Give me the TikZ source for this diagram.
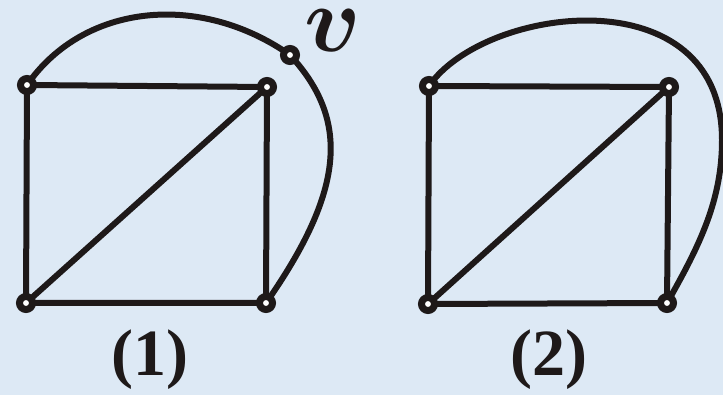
\documentclass[tikz,border=0pt]{standalone}
\usepackage{graphicx}
\usepackage{fontspec}
\usepackage{bm}
\setmainfont{Liberation Serif}
\definecolor{bg}{RGB}{221,233,245}
\definecolor{ink}{RGB}{30,25,25}
\tikzset{
  vtx/.style={circle,draw=ink,fill=white,line width=7pt,inner sep=0pt,minimum size=13pt},
  edge/.style={draw=ink,line width=6pt},
  lbl/.style={font=\fontsize{66}{66}\selectfont\bfseries,text=ink,inner sep=0pt},
}
\begin{document}
\begin{tikzpicture}[x=1pt,y=-1pt]
\fill[bg] (0,0) rectangle (723,395);
\useasboundingbox (0,0) rectangle (723,395);
% panel 1
\coordinate (a1) at (27,85);
\coordinate (b1) at (267,87);
\coordinate (c1) at (26,303);
\coordinate (d1) at (266,303);
\coordinate (v1) at (290,55);
\draw[edge] (a1) -- (b1) -- (d1) -- (c1) -- cycle;
\draw[edge] (c1) -- (b1);
\draw[edge] (a1) .. controls (84,3) and (200,-8) .. (v1);
\draw[edge] (v1) .. controls (350,120) and (345,190) .. (d1);
\node[vtx] (A1) at (a1) {};
\node[vtx] (B1) at (b1) {};
\node[vtx] (C1) at (c1) {};
\node[vtx] (D1) at (d1) {};
\node[vtx] (V1) at (v1) {};
\node[inner sep=0pt,text=ink] (vl) at (333,31) {\scalebox{9.4}{$\bm{v}$}};
\node[lbl] (l1) at (150,360) {(1)};
% panel 2
\coordinate (a2) at (429,86);
\coordinate (b2) at (669,87);
\coordinate (c2) at (428,304);
\coordinate (d2) at (667,303);
\coordinate (m2) at (722,140);
\draw[edge] (a2) .. controls (485,5) and (722,-25) .. (m2) .. controls (722,200) and (700,245) .. (d2);
\draw[edge] (a2) -- (b2) -- (d2) -- (c2) -- cycle;
\draw[edge] (c2) -- (b2);
\node[vtx] (A2) at (a2) {};
\node[vtx] (B2) at (b2) {};
\node[vtx] (C2) at (c2) {};
\node[vtx] (D2) at (d2) {};
\node[lbl] (l2) at (549,360) {(2)};
\end{tikzpicture}
\end{document}
